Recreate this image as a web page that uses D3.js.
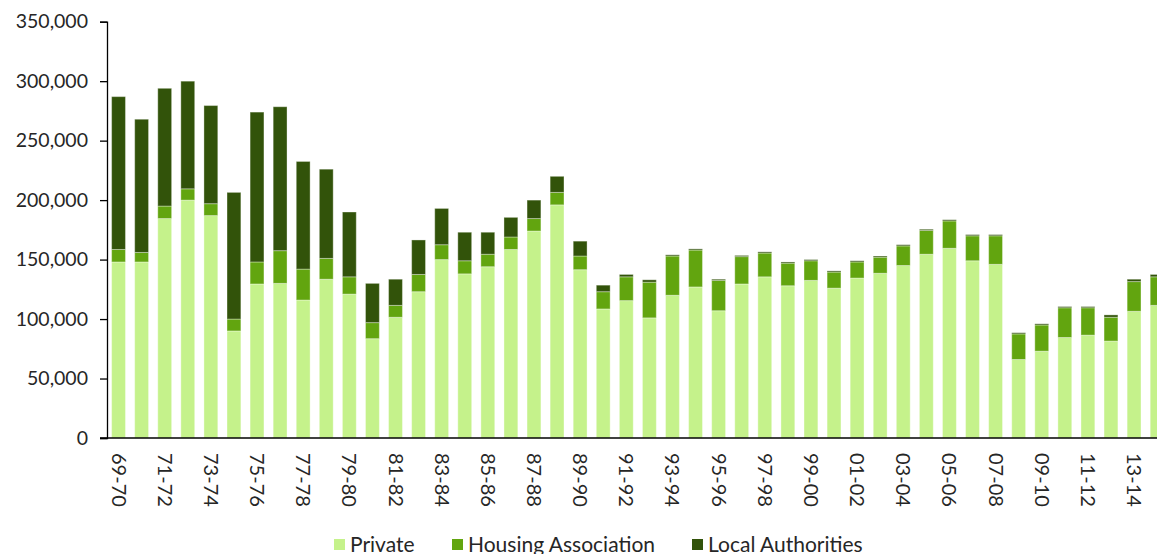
<!DOCTYPE html>
<html>
<head>
	<meta charset="UTF-8">
	<title>Housing completions</title>
	<script src="https://cdn.jsdelivr.net/npm/d3@7/dist/d3.min.js"></script>
	<style>
		body { margin: 0; background: #fff; }
		text { font-family: Lato, "Open Sans", sans-serif; fill: #262626; }
	</style>
</head>
<body>
<svg id="chart" width="1157" height="554"></svg>

<script>
	// financial years 1969-70 .. 2014-15
	var years = ["69-70","70-71","71-72","72-73","73-74","74-75","75-76","76-77","77-78","78-79",
		"79-80","80-81","81-82","82-83","83-84","84-85","85-86","86-87","87-88","88-89",
		"89-90","90-91","91-92","92-93","93-94","94-95","95-96","96-97","97-98","98-99",
		"99-00","00-01","01-02","02-03","03-04","04-05","05-06","06-07","07-08","08-09",
		"09-10","10-11","11-12","12-13","13-14","14-15"];

	var privateVals = [148000,148000,184500,200000,187000,90000,129500,130000,116000,133500,
		121000,83500,101500,123000,150000,138000,144000,158500,174000,196000,
		141500,108500,115500,101000,120000,127000,107000,129500,135500,128000,
		132500,126000,134500,138500,145000,154500,159500,149000,146000,66000,
		73000,84500,86500,81500,106500,111500];

	var housingAssocVals = [10500,8000,10500,9500,10000,10000,18500,27500,26000,17500,
		14500,13500,10000,14500,12500,11000,10500,10500,10500,10500,
		11500,14500,20000,30000,33000,31000,25500,23000,20000,19000,
		16500,13500,13500,13500,16500,20000,23000,21000,24000,21500,
		22000,25000,23000,20000,25000,24000];

	var localAuthVals = [128500,112000,99000,90500,82500,106500,126000,121000,90500,75000,
		54500,33000,22000,29000,30500,24000,18500,16500,15500,13500,
		12500,5500,2000,2000,1000,1000,1000,1000,1000,1000,
		1000,1000,1000,1000,1000,1000,1000,1000,1000,1000,
		1000,1000,1000,2000,2000,2000];

	var seriesNames = ["Private", "Housing Association", "Local Authorities"];
	var seriesColors = ["#c5f28b", "#62a50f", "#32530a"];
	var yTicks = [0, 50000, 100000, 150000, 200000, 250000, 300000, 350000];

	var rows = years.map(function (y, i) {
		return { year: y, p: privateVals[i], ha: housingAssocVals[i], la: localAuthVals[i] };
	});

	var svg = d3.select("#chart");
	var plotLeft = 107, plotTop = 21.7, plotBottom = 438;

	var x = d3.scaleBand().domain(years).range([plotLeft, plotLeft + years.length * 23.08]).paddingInner(0.4).paddingOuter(0.2);
	var y = d3.scaleLinear().domain([0, 350000]).range([plotBottom, plotTop]);

	var stack = d3.stack().keys(["p", "ha", "la"]);
	var layers = stack(rows);

	svg.selectAll(".layer").data(layers).enter().append("g")
		.attr("class", "layer")
		.attr("fill", function (d, i) { return seriesColors[i]; })
		.selectAll("rect").data(function (d) { return d; }).enter().append("rect")
		.attr("x", function (d) { return x(d.data.year); })
		.attr("width", x.bandwidth())
		.attr("y", function (d) { return y(d[1]); })
		.attr("height", function (d) { return y(d[0]) - y(d[1]); })
		.attr("stroke", "rgba(255,255,255,0.35)")
		.attr("stroke-width", 1);

	// y axis
	var yAxis = d3.axisLeft(y).tickValues(yTicks).tickSize(7).tickPadding(12).tickFormat(d3.format(","));
	var gy = svg.append("g").attr("transform", "translate(" + plotLeft + ",0)").call(yAxis);
	gy.select(".domain").attr("stroke", "#000").attr("stroke-width", 1.3);
	gy.selectAll(".tick line").attr("stroke", "#000").attr("stroke-width", 1.3);
	gy.selectAll("text").style("font-size", "19.5px").style("font-family", "Lato, sans-serif").attr("fill", "#262626");

	// x axis line
	svg.append("line").attr("x1", plotLeft - 7).attr("x2", 1157).attr("y1", plotBottom).attr("y2", plotBottom)
		.attr("stroke", "#000").attr("stroke-width", 1.5);

	// x labels, every second year, rotated
	svg.append("g").selectAll("text").data(years.filter(function (d, i) { return i % 2 === 0; }))
		.enter().append("text")
		.attr("transform", function (d) {
			return "translate(" + (x(d) + x.bandwidth() / 2) + "," + (plotBottom + 15) + ") rotate(90)";
		})
		.attr("dy", "0.35em")
		.style("font-size", "20px")
		.text(function (d) { return d; });

	// legend
	var legendX = [334, 452, 692];
	var lg = svg.append("g").selectAll("g").data(seriesNames).enter().append("g")
		.attr("transform", function (d, i) { return "translate(" + legendX[i] + ",539)"; });
	lg.append("rect").attr("width", 11).attr("height", 11)
		.attr("fill", function (d, i) { return seriesColors[i]; });
	lg.append("text").attr("x", 16).attr("y", 5.5).attr("dy", "0.38em")
		.style("font-size", "21px")
		.text(function (d) { return d; });
</script>
</body>
</html>
